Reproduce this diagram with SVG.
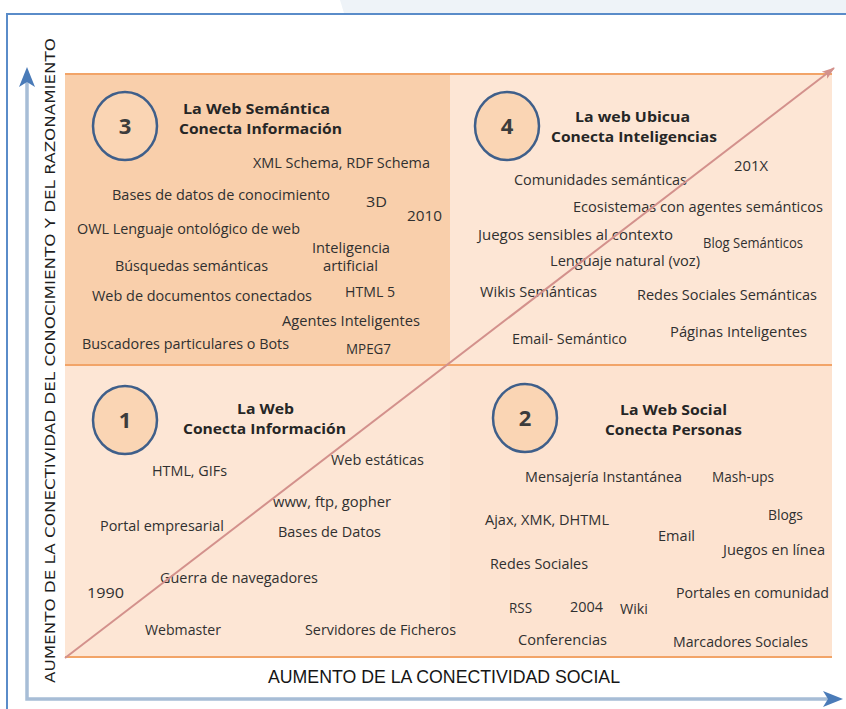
<svg xmlns="http://www.w3.org/2000/svg" width="846" height="709" viewBox="0 0 846 709">
<style>
.t{font-family:"Open Sans","Noto Sans","Liberation Sans",sans-serif;font-size:14px;fill:#303030}
.h{font-family:"Open Sans","Noto Sans","Liberation Sans",sans-serif;font-size:14px;font-weight:bold;fill:#262626}
.n{font-family:"Open Sans","Noto Sans","Liberation Sans",sans-serif;font-size:22px;font-weight:bold;fill:#3c3c3c;text-anchor:middle}
.c{fill:#fad5b4;stroke:#3f5f8a;stroke-width:2.5}
.q{stroke:none}
.ol{stroke:#f2a468;stroke-width:2;fill:none}
.ax{stroke:#a7bdd6;stroke-width:3.5;fill:none}
</style>
<defs>
<marker id="rose" markerUnits="userSpaceOnUse" markerWidth="14" markerHeight="12" refX="12" refY="6" orient="auto">
<path d="M0,1.5 L13,6 L0,10.5 L3,6 Z" fill="#d3918c"/>
</marker>
<marker id="blue" markerUnits="userSpaceOnUse" markerWidth="22" markerHeight="18" refX="19" refY="9" orient="auto">
<path d="M0,1 L20,9 L0,17 L5,9 Z" fill="#4a7bb8"/>
</marker>
</defs>
<rect width="846" height="709" fill="#ffffff"/>
<polygon points="340,0 846,0 846,13 344,13" fill="#eef3f8"/>
<path d="M7,709 V14 H846" stroke="#5a8cc9" stroke-width="2" fill="none"/>

<g id="quadrants-bg">
<rect class="q" x="65" y="74" width="385" height="291" fill="#f9cfab"/>
<rect class="q" x="450" y="74" width="382" height="291" fill="#fde6d5"/>
<rect class="q" x="65" y="365" width="385" height="292" fill="#fde6d5"/>
<rect class="q" x="450" y="365" width="382" height="292" fill="#fde3d0"/>
<line class="ol" x1="65" y1="74" x2="832" y2="74"/>
<line class="ol" x1="65" y1="365" x2="832" y2="365"/>
<line class="ol" x1="65" y1="657" x2="832" y2="657"/>
</g>

<g id="q3">
<ellipse class="c" cx="125" cy="126" rx="32" ry="34"/>
<text class="n" x="125" y="134">3</text>
<text class="h" x="183" y="114" textLength="147" lengthAdjust="spacingAndGlyphs">La Web Semántica</text>
<text class="h" x="179" y="134" textLength="163" lengthAdjust="spacingAndGlyphs">Conecta Información</text>
<text class="t" x="253" y="168" textLength="177" lengthAdjust="spacingAndGlyphs">XML Schema, RDF Schema</text>
<text class="t" x="112" y="200" textLength="218" lengthAdjust="spacingAndGlyphs">Bases de datos de conocimiento</text>
<text class="t" x="366" y="207" textLength="21" lengthAdjust="spacingAndGlyphs">3D</text>
<text class="t" x="407" y="221" textLength="35" lengthAdjust="spacingAndGlyphs">2010</text>
<text class="t" x="77" y="234" textLength="223" lengthAdjust="spacingAndGlyphs">OWL Lenguaje ontológico de web</text>
<text class="t" x="312" y="253" textLength="78" lengthAdjust="spacingAndGlyphs">Inteligencia</text>
<text class="t" x="323" y="271" textLength="55" lengthAdjust="spacingAndGlyphs">artificial</text>
<text class="t" x="115" y="271" textLength="153" lengthAdjust="spacingAndGlyphs">Búsquedas semánticas</text>
<text class="t" x="92" y="301" textLength="220" lengthAdjust="spacingAndGlyphs">Web de documentos conectados</text>
<text class="t" x="345" y="297" textLength="50" lengthAdjust="spacingAndGlyphs">HTML 5</text>
<text class="t" x="282" y="326" textLength="138" lengthAdjust="spacingAndGlyphs">Agentes Inteligentes</text>
<text class="t" x="82" y="349" textLength="207" lengthAdjust="spacingAndGlyphs">Buscadores particulares o Bots</text>
<text class="t" x="346" y="354" textLength="45" lengthAdjust="spacingAndGlyphs">MPEG7</text>
</g>

<g id="q4">
<ellipse class="c" cx="507" cy="126" rx="32" ry="34"/>
<text class="n" x="507" y="134">4</text>
<text class="h" x="575" y="122" textLength="115" lengthAdjust="spacingAndGlyphs">La web Ubicua</text>
<text class="h" x="551" y="142" textLength="166" lengthAdjust="spacingAndGlyphs">Conecta Inteligencias</text>
<text class="t" x="734" y="171" textLength="34" lengthAdjust="spacingAndGlyphs">201X</text>
<text class="t" x="514" y="185" textLength="173" lengthAdjust="spacingAndGlyphs">Comunidades semánticas</text>
<text class="t" x="573" y="212" textLength="250" lengthAdjust="spacingAndGlyphs">Ecosistemas con agentes semánticos</text>
<text class="t" x="478" y="240" textLength="195" lengthAdjust="spacingAndGlyphs">Juegos sensibles al contexto</text>
<text class="t" x="703" y="248" textLength="100" lengthAdjust="spacingAndGlyphs">Blog Semánticos</text>
<text class="t" x="550" y="266" textLength="150" lengthAdjust="spacingAndGlyphs">Lenguaje natural (voz)</text>
<text class="t" x="480" y="297" textLength="117" lengthAdjust="spacingAndGlyphs">Wikis Semánticas</text>
<text class="t" x="637" y="300" textLength="180" lengthAdjust="spacingAndGlyphs">Redes Sociales Semánticas</text>
<text class="t" x="512" y="344" textLength="115" lengthAdjust="spacingAndGlyphs">Email- Semántico</text>
<text class="t" x="670" y="337" textLength="137" lengthAdjust="spacingAndGlyphs">Páginas Inteligentes</text>
</g>

<g id="q1">
<ellipse class="c" cx="125" cy="420" rx="32" ry="34"/>
<text class="n" x="125" y="428">1</text>
<text class="h" x="237" y="414" textLength="57" lengthAdjust="spacingAndGlyphs">La Web</text>
<text class="h" x="183" y="434" textLength="163" lengthAdjust="spacingAndGlyphs">Conecta Información</text>
<text class="t" x="152" y="476" textLength="75" lengthAdjust="spacingAndGlyphs">HTML, GIFs</text>
<text class="t" x="331" y="465" textLength="93" lengthAdjust="spacingAndGlyphs">Web estáticas</text>
<text class="t" x="273" y="507" textLength="118" lengthAdjust="spacingAndGlyphs">www, ftp, gopher</text>
<text class="t" x="100" y="531" textLength="124" lengthAdjust="spacingAndGlyphs">Portal empresarial</text>
<text class="t" x="278" y="537" textLength="103" lengthAdjust="spacingAndGlyphs">Bases de Datos</text>
<text class="t" x="160" y="583" textLength="158" lengthAdjust="spacingAndGlyphs">Guerra de navegadores</text>
<text class="t" x="87" y="598" textLength="37" lengthAdjust="spacingAndGlyphs">1990</text>
<text class="t" x="145" y="635" textLength="76" lengthAdjust="spacingAndGlyphs">Webmaster</text>
<text class="t" x="305" y="635" textLength="151" lengthAdjust="spacingAndGlyphs">Servidores de Ficheros</text>
</g>

<g id="q2">
<ellipse class="c" cx="525" cy="418" rx="32" ry="34"/>
<text class="n" x="525" y="426">2</text>
<text class="h" x="620" y="415" textLength="107" lengthAdjust="spacingAndGlyphs">La Web Social</text>
<text class="h" x="605" y="435" textLength="137" lengthAdjust="spacingAndGlyphs">Conecta Personas</text>
<text class="t" x="525" y="482" textLength="157" lengthAdjust="spacingAndGlyphs">Mensajería Instantánea</text>
<text class="t" x="712" y="482" textLength="62" lengthAdjust="spacingAndGlyphs">Mash-ups</text>
<text class="t" x="485" y="525" textLength="124" lengthAdjust="spacingAndGlyphs">Ajax, XMK, DHTML</text>
<text class="t" x="768" y="520" textLength="35" lengthAdjust="spacingAndGlyphs">Blogs</text>
<text class="t" x="658" y="541" textLength="37" lengthAdjust="spacingAndGlyphs">Email</text>
<text class="t" x="723" y="555" textLength="102" lengthAdjust="spacingAndGlyphs">Juegos en línea</text>
<text class="t" x="490" y="569" textLength="98" lengthAdjust="spacingAndGlyphs">Redes Sociales</text>
<text class="t" x="676" y="598" textLength="153" lengthAdjust="spacingAndGlyphs">Portales en comunidad</text>
<text class="t" x="509" y="613" textLength="23" lengthAdjust="spacingAndGlyphs">RSS</text>
<text class="t" x="570" y="612" textLength="33" lengthAdjust="spacingAndGlyphs">2004</text>
<text class="t" x="620" y="614" textLength="28" lengthAdjust="spacingAndGlyphs">Wiki</text>
<text class="t" x="518" y="645" textLength="89" lengthAdjust="spacingAndGlyphs">Conferencias</text>
<text class="t" x="673" y="647" textLength="135" lengthAdjust="spacingAndGlyphs">Marcadores Sociales</text>
</g>

<g id="connectors">
<line x1="65" y1="658" x2="834" y2="68" stroke="#d3918c" stroke-width="2" marker-end="url(#rose)"/>
<path class="ax" d="M27,76 V699 H830"/>
<path d="M27,699 V68" stroke="none" fill="none" marker-end="url(#blue)"/>
<path d="M27,699 H842" stroke="none" fill="none" marker-end="url(#blue)"/>
</g>

<g id="axis-labels">
<text transform="translate(55,683) rotate(-90)" textLength="645" lengthAdjust="spacingAndGlyphs" style="font-family:'DejaVu Sans','Liberation Sans',sans-serif;font-size:14.5px;fill:#1e1e1e">AUMENTO DE LA CONECTIVIDAD DEL CONOCIMIENTO Y DEL RAZONAMIENTO</text>
<text x="268" y="683" textLength="352" lengthAdjust="spacingAndGlyphs" style="font-family:'Liberation Sans','Open Sans',sans-serif;font-size:19px;fill:#151515">AUMENTO DE LA CONECTIVIDAD SOCIAL</text>
</g>
</svg>
